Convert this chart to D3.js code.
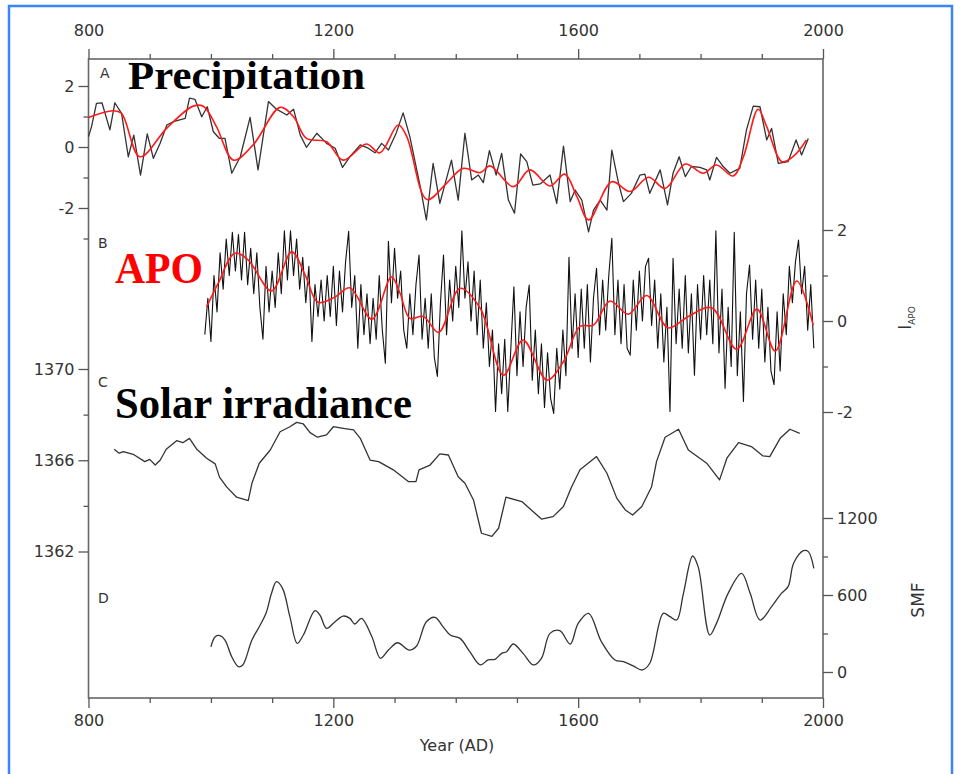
<!DOCTYPE html>
<html>
<head>
<meta charset="utf-8">
<script src="https://cdn.jsdelivr.net/npm/d3@7"></script>
<style>
  html, body { margin: 0; padding: 0; background: #fff; }
  svg { display: block; }
</style>
</head>
<body>
<svg id="chart" width="955" height="774"></svg>
<script>
// ---- A: precipitation reconstruction (standardised) ----
const precipYears = [800,805,813,822,835,843,854,865,874,885,896,906,917,928,939,949,958,965,974,985,994,1004,1014,1023,1034,1048,1064,1077,1094,1107,1124,1135,1146,1156,1173,1189,1203,1215,1227,1244,1257,1268,1279,1290,1303,1314,1325,1342,1352,1363,1374,1393,1404,1415,1426,1437,1445,1455,1466,1475,1486,1496,1506,1516,1526,1538,1554,1565,1576,1587,1595,1606,1617,1625,1636,1647,1655,1666,1674,1687,1701,1709,1717,1734,1746,1755,1765,1775,1785,1799,1810,1815,1826,1837,1848,1859,1864,1875,1886,1897,1908,1916,1927,1943,1956,1965,1976];
const precipValues = [0.34,0.67,1.43,1.45,0.56,1.45,1.1,-0.32,0.39,-0.92,0.43,-0.37,0.12,0.72,0.83,0.89,0.94,1.6,1.56,0.99,1.32,0.5,0.28,0.28,-0.86,-0.32,0.97,-0.75,1.49,1.24,1.05,1.24,0.39,-0.01,0.45,0.12,-0.04,-0.67,-0.32,0.07,-0.04,-0.19,0.12,-0.1,0.47,1.12,0.34,-1.3,-2.39,-0.54,-1.85,-0.43,-1.74,0.45,-1.08,-0.92,-1.17,-0.12,-0.92,-0.21,-1.74,-2.17,-0.23,-0.48,-1.25,-1.21,-0.92,-1.85,0.03,-1.79,-1.41,-1.74,-2.78,-2.07,-1.74,-2.07,-0.1,-1.19,-1.79,-1.52,-0.92,-0.89,-1.52,-0.75,-1.9,-0.86,-0.32,-0.97,-0.64,-0.67,-0.75,-1.08,-0.34,-0.64,-0.86,-0.75,-0.7,0.56,1.34,1.32,0.23,0.61,-0.54,-0.48,0.23,-0.26,0.28];
const precipSmoothYears = [800,840,854,884,928,971,988,1009,1037,1069,1113,1135,1156,1189,1216,1254,1276,1306,1320,1353,1385,1412,1440,1456,1494,1521,1554,1578,1598,1617,1655,1685,1715,1742,1775,1804,1826,1853,1870,1894,1908,1933,1952,1973];
const precipSmoothValues = [0.97,1.19,1.1,-0.32,0.62,1.34,1.33,0.67,-0.43,0.07,1.3,0.99,0.28,0.17,-0.43,0.1,-0.19,0.72,0.34,-1.72,-1.19,-0.7,-0.84,-0.62,-1.3,-0.75,-1.28,-0.89,-1.63,-2.39,-1.14,-1.46,-0.99,-1.36,-0.56,-0.86,-0.59,-0.95,-0.32,1.24,0.67,-0.48,-0.3,0.23];

// ---- B: APO index, 5-year samples from 990 AD ----
const apoStart = 990, apoStep = 5;
const apoValues = [
  -0.3,0.5,-0.45,1.0,0.2,1.5,0.7,1.8,1.0,1.95,
  1.1,1.9,0.9,1.95,0.8,1.6,0.6,1.5,0.3,-0.4,
  1.2,0.2,1.1,0.3,1.5,0.6,1.98,0.9,1.98,1.0,
  1.8,0.7,1.4,0.4,1.2,-0.45,0.8,0.1,0.9,0.0,
  1.0,0.1,1.2,-0.1,1.1,0.2,1.3,1.97,0.3,1.0,
  -0.6,0.8,-0.3,0.6,-0.5,0.5,-0.4,1.0,-0.2,-0.93,
  1.75,0.4,1.6,0.5,1.1,-0.2,-0.6,0.6,-0.3,0.8,
  1.45,-0.4,0.5,-0.6,0.6,-0.8,-1.22,0.4,1.45,-0.3,
  0.9,0.0,1.2,0.3,1.98,0.5,1.3,0.0,1.1,-0.3,
  0.9,-0.6,0.4,-1.0,-0.2,-1.99,-0.5,-1.6,-0.4,-1.99,
  -0.6,0.75,-1.2,0.2,-1.0,0.3,0.79,-1.3,-0.2,-1.6,
  -0.5,-1.9,-0.7,-1.7,-2.03,-0.6,-1.5,-0.2,-1.2,1.4,
  -0.6,0.6,-0.8,0.7,-0.6,0.8,-0.9,0.5,1.16,-0.3,
  0.9,-0.2,1.0,1.82,-0.3,0.9,-0.5,0.8,-0.6,-0.75,
  0.9,-0.2,1.1,0.0,1.2,1.38,-0.1,0.9,-0.6,0.6,
  -0.9,0.3,-1.99,1.38,-0.5,0.7,-0.6,1.0,-0.7,0.6,
  -1.19,0.8,-0.4,1.0,-0.3,0.9,-0.5,1.98,-0.7,0.7,
  -1.48,0.3,-1.0,1.95,-1.2,0.2,-1.77,0.6,1.23,-0.4,
  0.9,-0.6,0.7,-0.9,0.3,-1.1,-1.4,0.2,-1.1,0.6,
  -0.3,1.2,0.4,1.3,1.78,0.6,1.2,-0.2,0.8,-0.6
];
const apoSmoothYears = [993,1012,1039,1061,1099,1132,1154,1175,1203,1227,1263,1295,1309,1325,1347,1372,1407,1440,1478,1510,1549,1576,1603,1625,1652,1682,1712,1747,1780,1818,1859,1892,1922,1957,1984];
const apoSmoothValues = [0.31,0.83,1.49,1.34,0.66,1.52,1.01,0.41,0.53,0.73,0.04,0.97,0.61,0.06,0.1,-0.25,0.72,0.28,-1.19,-0.42,-1.3,-0.89,-0.12,-0.09,0.44,0.15,0.56,-0.15,0.1,0.29,-0.62,0.26,-0.66,0.88,-0.09];

// ---- C: total solar irradiance (W/m2) ----
const tsiYears = [842,850,857,873,892,900,909,917,927,944,954,965,977,993,1007,1014,1026,1042,1061,1067,1079,1097,1113,1129,1140,1151,1162,1174,1189,1200,1216,1233,1244,1260,1274,1298,1323,1335,1340,1358,1374,1388,1404,1415,1429,1442,1459,1470,1482,1508,1540,1559,1576,1589,1603,1630,1647,1663,1677,1689,1704,1720,1728,1742,1764,1780,1810,1831,1843,1862,1883,1902,1913,1930,1946,1962];
const tsiValues = [1366.48,1366.31,1366.38,1366.26,1365.94,1366.04,1365.79,1366.0,1366.48,1366.86,1366.77,1366.96,1366.48,1366.09,1365.84,1365.26,1364.82,1364.38,1364.23,1364.99,1365.87,1366.45,1367.25,1367.47,1367.66,1367.59,1367.21,1367.01,1367.11,1367.47,1367.4,1367.33,1366.96,1366.01,1365.94,1365.58,1365.06,1365.06,1365.58,1365.79,1366.28,1366.23,1365.28,1364.99,1364.26,1362.8,1362.66,1363.02,1364.38,1364.19,1363.42,1363.53,1363.97,1364.82,1365.58,1366.16,1365.43,1364.34,1363.82,1363.6,1363.97,1364.84,1365.94,1367.01,1367.36,1366.45,1365.87,1365.14,1366.09,1366.77,1366.6,1366.19,1366.16,1366.96,1367.36,1367.18];

// ---- D: solar modulation function (MV) ----
const smfYears = [1000,1007,1015,1023,1034,1045,1052,1067,1079,1090,1099,1107,1117,1129,1141,1151,1170,1178,1189,1201,1216,1227,1235,1246,1263,1277,1290,1305,1324,1336,1352,1366,1380,1391,1407,1423,1440,1453,1464,1475,1483,1494,1510,1527,1540,1554,1570,1587,1600,1617,1638,1660,1674,1690,1705,1717,1739,1750,1761,1772,1787,1796,1815,1826,1845,1867,1881,1897,1916,1932,1943,1952,1968,1976,1985];
const smfValues = [197,275,283,249,119,41,55,249,353,457,613,704,652,431,223,288,478,444,340,384,436,418,374,418,275,107,171,228,171,203,392,426,348,288,262,158,55,94,99,145,158,218,145,55,107,301,322,218,379,457,236,94,81,47,16,68,457,431,405,613,904,821,288,379,613,769,613,405,509,613,665,847,945,938,808];

// ---- tick values ----
const yearMajor = [800, 1200, 1600, 2000];
const yearMinor = [900, 1000, 1100, 1300, 1400, 1500, 1700, 1800, 1900];
const precipMajor = [-2, 0, 2], precipMinor = [-3, -1, 1];
const apoMajor = [-2, 0, 2], apoMinor = [-1, 1];
const tsiMajor = [1362, 1366, 1370], tsiMinor = [1364, 1368];
const smfMajor = [0, 600, 1200], smfMinor = [300, 900];

const svg = d3.select("#chart");
const L = 88.5, R = 823, T = 59, B = 698;

// outer blue frame
svg.append("rect")
  .attr("x", 9).attr("y", 6).attr("width", 943).attr("height", 800)
  .attr("fill", "none").attr("stroke", "#3a86f4").attr("stroke-width", 2.5);

const x = d3.scaleLinear().domain([800, 2000]).range([L, R]);
const yPrecip = d3.scaleLinear().domain([-2, 2]).range([208, 86]);
const yApo = d3.scaleLinear().domain([-2, 2]).range([412, 230]);
const yTsi = d3.scaleLinear().domain([1362, 1370]).range([551.5, 369]);
const ySmf = d3.scaleLinear().domain([0, 1200]).range([672, 518]);

// plot box
svg.append("rect")
  .attr("x", L).attr("y", T).attr("width", R - L).attr("height", B - T)
  .attr("fill", "none").attr("stroke", "#666").attr("stroke-width", 1.6);

const fmt = d => String(d);
function drawAxis(axisFn, scale, major, minor, transform, pad) {
  const gMinor = svg.append("g").attr("transform", transform)
    .call(axisFn(scale).tickValues(minor).tickSize(5).tickFormat(""));
  const gMajor = svg.append("g").attr("transform", transform)
    .call(axisFn(scale).tickValues(major).tickSize(10).tickPadding(pad).tickFormat(fmt));
  [gMinor, gMajor].forEach(g => {
    g.select(".domain").remove();
    g.selectAll("line").attr("stroke", "#555").attr("stroke-width", 1.3);
    g.selectAll("text").attr("fill", "#333")
      .style("font-family", "'DejaVu Sans', sans-serif").style("font-size", "16px");
  });
}
drawAxis(d3.axisTop, x, yearMajor, yearMinor, `translate(0,${T})`, 13);
drawAxis(d3.axisBottom, x, yearMajor, yearMinor, `translate(0,${B})`, 7);
drawAxis(d3.axisLeft, yPrecip, precipMajor, precipMinor, `translate(${L},0)`, 4);
drawAxis(d3.axisLeft, yTsi, tsiMajor, tsiMinor, `translate(${L},0)`, 4);
drawAxis(d3.axisRight, yApo, apoMajor, apoMinor, `translate(${R},0)`, 4);
drawAxis(d3.axisRight, ySmf, smfMajor, smfMinor, `translate(${R},0)`, 4);

// series
const pairs = (xs, ys) => xs.map((d, i) => [d, ys[i]]);
function drawLine(data, yScale, curve, color, width) {
  svg.append("path").datum(data)
    .attr("fill", "none").attr("stroke", color).attr("stroke-width", width)
    .attr("stroke-linejoin", "round")
    .attr("d", d3.line().x(d => x(d[0])).y(d => yScale(d[1])).curve(curve));
}
drawLine(pairs(precipYears, precipValues), yPrecip, d3.curveLinear, "#333", 1.3);
drawLine(pairs(precipSmoothYears, precipSmoothValues), yPrecip, d3.curveCatmullRom, "#ff1a1a", 1.6);

const apoYears = apoValues.map((_, i) => apoStart + i * apoStep);
drawLine(pairs(apoYears, apoValues), yApo, d3.curveLinear, "#111", 1.1);
drawLine(pairs(apoSmoothYears, apoSmoothValues), yApo, d3.curveCatmullRom, "#ff1a1a", 1.6);

drawLine(pairs(tsiYears, tsiValues), yTsi, d3.curveLinear, "#333", 1.3);
drawLine(pairs(smfYears, smfValues), ySmf, d3.curveCatmullRom, "#333", 1.3);

// panel letters
const sans = "'DejaVu Sans', sans-serif";
[["A", 100, 78], ["B", 98, 248], ["C", 98, 387], ["D", 98, 603]].forEach(([t, px, py]) => {
  svg.append("text").attr("x", px).attr("y", py).text(t)
    .attr("fill", "#333").style("font-family", sans).style("font-size", "14px");
});

// panel titles
const serif = "'Liberation Serif', 'Times New Roman', serif";
function title(t, px, py, size, len, color) {
  svg.append("text").attr("x", px).attr("y", py).text(t)
    .attr("fill", color).attr("textLength", len).attr("lengthAdjust", "spacingAndGlyphs")
    .style("font-family", serif).style("font-weight", "bold").style("font-size", size + "px");
}
title("Precipitation", 128, 89, 40, 237, "#000");
title("APO", 115, 283, 45, 88, "#ff0000");
title("Solar irradiance", 115, 418, 45, 297, "#000");

// axis titles
svg.append("text").attr("x", 457).attr("y", 751).attr("text-anchor", "middle")
  .text("Year (AD)").attr("fill", "#333").style("font-family", sans).style("font-size", "16px");

svg.append("text").attr("transform", "translate(924,600) rotate(-90)")
  .attr("text-anchor", "middle").text("SMF")
  .attr("fill", "#333").style("font-family", sans).style("font-size", "17px");

const iapo = svg.append("text").attr("transform", "translate(911,318) rotate(-90)")
  .attr("text-anchor", "middle").attr("fill", "#333")
  .style("font-family", sans).style("font-size", "17px");
iapo.append("tspan").text("I");
iapo.append("tspan").attr("dy", 4).style("font-size", "9px").text("APO");
</script>
</body>
</html>
